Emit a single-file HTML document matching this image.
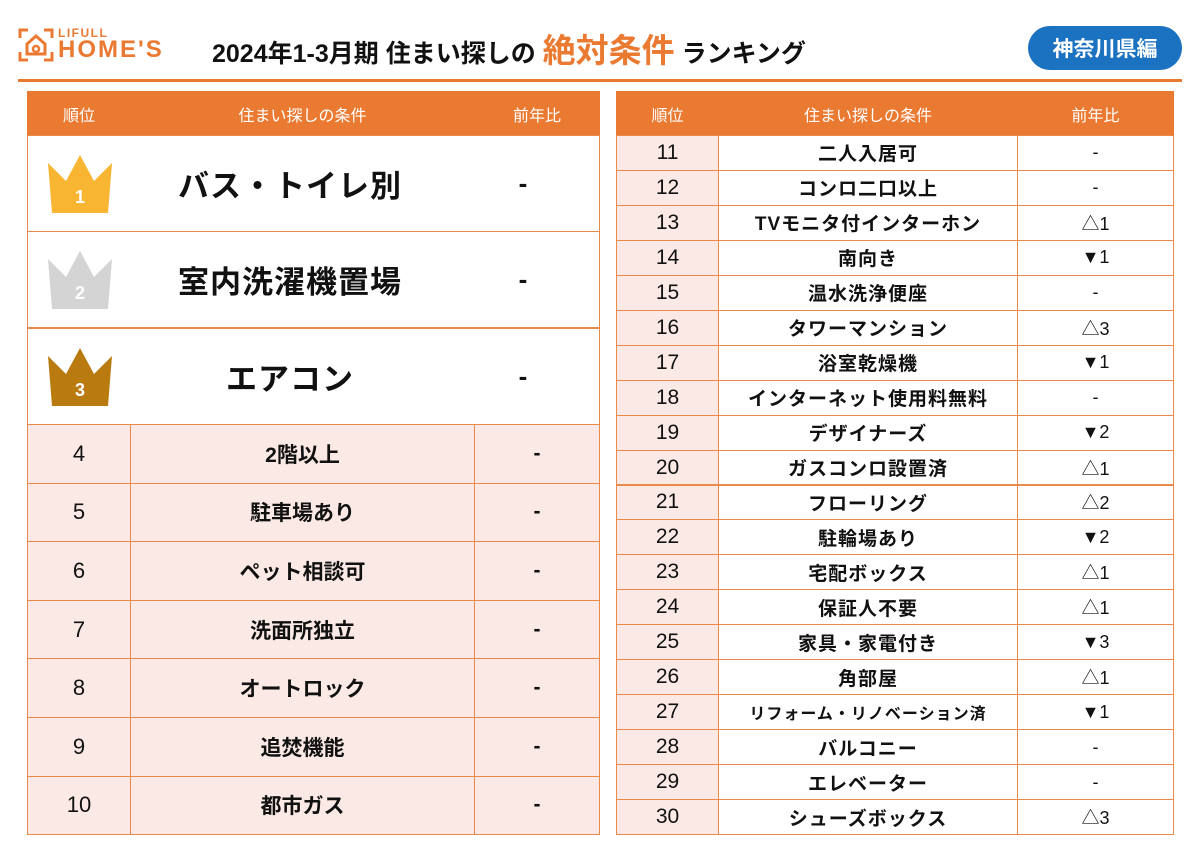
<!DOCTYPE html>
<html><head><meta charset="utf-8">
<style>
body{margin:0;width:1200px;height:857px;background:#fff;position:relative;overflow:hidden;font-family:"Liberation Sans","Noto Sans CJK JP",sans-serif;color:#111}
.abs{position:absolute}
.cell{position:absolute;box-sizing:border-box;display:flex;align-items:center;justify-content:center;border:1px solid #e9894a;font-weight:bold}
.hd{background:#ea7a32;color:#fff;font-size:16px;font-weight:normal;border-color:#ea7a32}
</style></head><body>
<div class="abs" style="left:18px;top:26px;width:170px;height:40px">
 <svg width="36" height="34" style="position:absolute;left:0;top:2px">
  <path d="M2 10V2h8M26 2h8v8M2 24v8h8M26 32h8v-8" stroke="#ea7a32" stroke-width="3" fill="none"/>
  <path d="M9 26V16l9-8 9 8v10z" stroke="#ea7a32" stroke-width="3" fill="none"/>
  <circle cx="18" cy="21" r="3" stroke="#ea7a32" stroke-width="2.5" fill="none"/>
 </svg>
 <div class="abs" style="left:40px;top:0;font-size:12px;font-weight:bold;color:#ea7a32;letter-spacing:1.5px">LIFULL</div>
 <div class="abs" style="left:40px;top:10px;font-size:24px;font-weight:bold;color:#ea7a32;letter-spacing:2px">HOME'S</div>
</div>
<div class="abs" style="left:212px;top:24px;font-size:25px;white-space:nowrap;font-weight:bold">2024年1-3月期 住まい探しの <span style="color:#ea7a32;font-size:33px;font-weight:bold">絶対条件</span> ランキング</div>
<div class="abs" style="left:1028px;top:26px;width:154px;height:44px;border-radius:22px;background:#1a72c1;color:#fff;font-size:21px;display:flex;align-items:center;justify-content:center;font-weight:bold">神奈川県編</div>
<div class="abs" style="left:18px;top:79px;width:1164px;height:3px;background:#ea7a32"></div>
<div id="root"></div>
<script>
const leftRanks=[1,2,3,4,5,6,7,8,9,10];
const leftConds=["バス・トイレ別","室内洗濯機置場","エアコン","2階以上","駐車場あり","ペット相談可","洗面所独立","オートロック","追焚機能","都市ガス"];
const leftChange=["-","-","-","-","-","-","-","-","-","-"];
const rightRanks=[11,12,13,14,15,16,17,18,19,20,21,22,23,24,25,26,27,28,29,30];
const rightConds=["二人入居可","コンロ二口以上","TVモニタ付インターホン","南向き","温水洗浄便座","タワーマンション","浴室乾燥機","インターネット使用料無料","デザイナーズ","ガスコンロ設置済","フローリング","駐輪場あり","宅配ボックス","保証人不要","家具・家電付き","角部屋","リフォーム・リノベーション済","バルコニー","エレベーター","シューズボックス"];
const rightChange=["-","-","△1","▼1","-","△3","▼1","-","▼2","△1","△2","▼2","△1","△1","▼3","△1","▼1","-","-","△3"];
const crownColors=["#f7b531","#d4d4d4","#b97a10"];
const root=document.getElementById('root');
function cell(x,y,w,h,txt,cls,style,name){
 const d=document.createElement('div');d.className='cell '+(cls||'');
 d.style.cssText=`left:${x}px;top:${y}px;width:${w}px;height:${h}px;`+(style||'');
 d.textContent=txt;
 
 
 root.appendChild(d);return d;}
cell(27,91,104,45,'順位','hd','','left-header-rank');
cell(130,91,345,45,'住まい探しの条件','hd','','left-header-condition');
cell(474,91,126,45,'前年比','hd','','left-header-change');
leftRanks.forEach((r,i)=>{
 if(i<3){
  const y=135+i*96.3,h=97;
  cell(27,y,573,h,'','', 'background:#fff','top-row-bg');
  cell(150,y,280,h,leftConds[i],'','border:none;font-size:31px;letter-spacing:1px','top-condition');
  cell(460,y,126,h,leftChange[i],'','border:none;font-size:26px','top-change');
  const s=document.createElementNS('http://www.w3.org/2000/svg','svg');
  s.setAttribute('width','72');s.setAttribute('height','62');
  s.style.cssText=`position:absolute;left:44px;top:${y+20}px`;
  s.innerHTML=`<path d="M4 8 L22 26 L36 0 L50 26 L68 8 L64 58 L8 58 Z" fill="${crownColors[i]}"/><text x="36" y="48" text-anchor="middle" font-size="18" font-weight="bold" fill="#fff" font-family="Liberation Sans">${r}</text>`;
  
  
  root.appendChild(s);
 }else{
  const h=58.6,y=424+(i-3)*h;
  cell(27,y,104,h+1,String(r),'','background:#fbe9e5;font-size:22px;font-weight:normal','rank-cell');
  cell(130,y,345,h+1,leftConds[i],'','background:#fbe9e5;font-size:21px','condition-cell');
  cell(474,y,126,h+1,leftChange[i],'','background:#fbe9e5;font-size:21px','change-cell');
 }
});
cell(616,91,103,45,'順位','hd','','right-header-rank');
cell(718,91,300,45,'住まい探しの条件','hd','','right-header-condition');
cell(1017,91,157,45,'前年比','hd','','right-header-change');
rightRanks.forEach((r,i)=>{
 const h=34.95,y=135+i*h;
 cell(616,y,103,h+1,String(r),'','background:#fbe9e5;font-size:21px;font-weight:normal','rank-cell');
 const long=rightConds[i].length>13;
 cell(718,y,300,h+1,rightConds[i],'','background:#fff;font-size:'+(long?16:19)+'px;letter-spacing:1px','condition-cell');
 cell(1017,y,157,h+1,rightChange[i],'','background:#fff;font-size:18px;font-weight:normal','change-cell');
});
</script>
</body></html>
